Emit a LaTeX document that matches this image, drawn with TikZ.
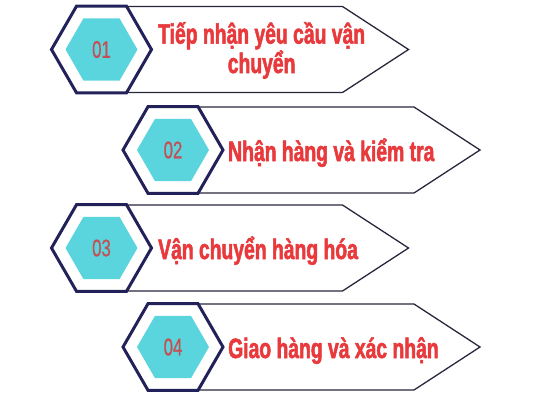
\documentclass[tikz,border=0pt]{standalone}
\usepackage{fontspec}
\setmainfont{Liberation Sans}
\newfontfamily\steptitlefont[FakeStretch=0.69,FakeBold=1.8]{Liberation Sans Bold}
\newfontfamily\stepnumfont[FakeStretch=0.7,FakeBold=0.6]{Liberation Sans}
\usetikzlibrary{shapes.geometric}
\definecolor{navy}{RGB}{35,33,90}
\definecolor{hexcyan}{RGB}{90,213,222}
\definecolor{titlered}{RGB}{232,58,60}
\definecolor{numred}{RGB}{196,80,84}
\definecolor{arrowline}{RGB}{40,40,60}
\begin{document}
\begin{tikzpicture}[x=1pt,y=-1pt,
  outerhex/.style={regular polygon, regular polygon sides=6, minimum size=100pt,
    inner sep=0pt, outer sep=0pt, draw=navy, line width=3pt, fill=white},
  innerhex/.style={regular polygon, regular polygon sides=6, minimum size=72pt,
    inner sep=0pt, fill=hexcyan, text=numred,
    font=\stepnumfont\fontsize{24}{24}\selectfont},
  arrowbox/.style={draw=arrowline, line width=1.3pt, fill=white, line join=miter},
  steptitle/.style={font=\steptitlefont\fontsize{28}{27}\selectfont,
    text=titlered, align=center, inner sep=0pt}
]
\useasboundingbox (0,0) rectangle (533,400);
\fill[white] (0,0) rectangle (533,400);
% step boxes
\foreach \cx/\cy/\n in {101.5/49.5/1, 173/150/2, 101.5/248/3, 173/347/4}{
  \draw[arrowbox] (\cx+25,\cy-43) -- (\cx+241,\cy-43) -- (\cx+307,\cy)
     -- (\cx+241,\cy+43) -- (\cx+25,\cy+43);
  \node[outerhex] (o\n) at (\cx,\cy) {};
  \node[innerhex] (h\n) at (\cx,\cy) {0\n};
}
\node[steptitle, anchor=base west] (t1) at (158,73) {Tiếp nhận yêu cầu vận\\chuyển};
\node[steptitle, anchor=base west] (t2) at (228,161) {Nhận hàng và kiểm tra};
\node[steptitle, anchor=base west] (t3) at (158,259) {Vận chuyển hàng hóa};
\node[steptitle, anchor=base west] (t4) at (228,358) {Giao hàng và xác nhận};
\end{tikzpicture}
\end{document}
